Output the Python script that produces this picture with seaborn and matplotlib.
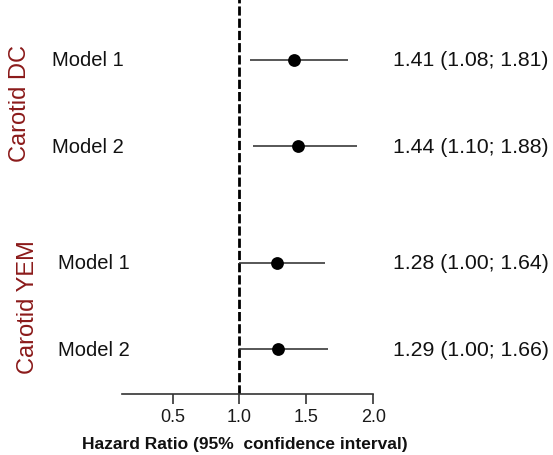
import numpy as np
import pandas as pd
import matplotlib
matplotlib.use("Agg")
import matplotlib.pyplot as plt
import matplotlib.transforms as mtransforms
import seaborn as sns

# ---- data ----
groups = ["Carotid DC", "Carotid DC", "Carotid YEM", "Carotid YEM"]
models = ["Model 1", "Model 2", "Model 1", "Model 2"]
hr = [1.41, 1.44, 1.28, 1.29]
ci_low = [1.08, 1.10, 1.00, 1.00]
ci_high = [1.81, 1.88, 1.64, 1.66]
xticks = [0.5, 1.0, 1.5, 2.0]
xlabel = "Hazard Ratio (95%  confidence interval)"

sns.set_theme(style="white")
plt.rcParams["font.family"] = ["Liberation Sans", "DejaVu Sans"]

W, H = 553, 456
fig = plt.figure(figsize=(W / 100, H / 100), dpi=100)
ax = fig.add_axes([121.7 / W, (H - 395) / H, (373.3 - 121.7) / W, 395 / H])

# row positions: extra gap between groups
ypos = []
y = 1.0
prev = None
for g in groups:
    if prev is not None:
        y += 1.0 if g == prev else 1.35
    ypos.append(y)
    prev = g

df = pd.DataFrame({"group": groups, "model": models, "hr": hr,
                   "lo": ci_low, "hi": ci_high, "y": ypos})

ax.hlines(df["y"], df["lo"], df["hi"], color="#3a3a3a", lw=1.2, zorder=2)
sns.scatterplot(data=df, x="hr", y="y", color="black", s=85,
                edgecolor="black", linewidth=0, zorder=3, ax=ax, legend=False)
ax.axvline(1.0, color="black", lw=2.0, linestyle=(0, (3.3, 1.1)), zorder=1)

ax.set_xlim(0.12, 2.0)
ax.set_ylim(4.865, 0.30)
ax.set_xticks(xticks)
ax.set_xticklabels([f"{t:.1f}" for t in xticks], fontsize=13, color="#1a1a1a")
ax.set_yticks([])
ax.set_ylabel("")
ax.set_xlabel(xlabel, fontsize=12.5, fontweight="bold", color="#111111")
ax.xaxis.set_label_coords((245 - 121.7) / (373.3 - 121.7), -42 / 395)
for s in ["top", "right", "left"]:
    ax.spines[s].set_visible(False)
ax.spines["bottom"].set_color("#333333")
ax.spines["bottom"].set_linewidth(1.2)
ax.tick_params(axis="x", direction="out", length=7, width=1.2, color="#333333",
               pad=3, bottom=True)
ax.patch.set_alpha(0)

tr = mtransforms.blended_transform_factory(fig.transFigure, ax.transData)
group_x = {"Carotid DC": 52, "Carotid YEM": 58}
group_lx = {"Carotid DC": 20, "Carotid YEM": 28}
for i, r in df.iterrows():
    ax.text(group_x[r["group"]] / W, r["y"], r["model"], transform=tr,
            ha="left", va="center", fontsize=14.5, color="#111111")
    ax.text(393 / W, r["y"], f"{r['hr']:.2f} ({r['lo']:.2f}; {r['hi']:.2f})",
            transform=tr, ha="left", va="center", fontsize=15.3, color="#111111")
for g in dict.fromkeys(groups):
    yy = df.loc[df["group"] == g, "y"].mean()
    ax.text(group_lx[g] / W, yy, g, transform=tr, rotation=90, ha="center",
            va="center", fontsize=17, color="#8b1a1a")

fig.savefig("out.png", dpi=100)
